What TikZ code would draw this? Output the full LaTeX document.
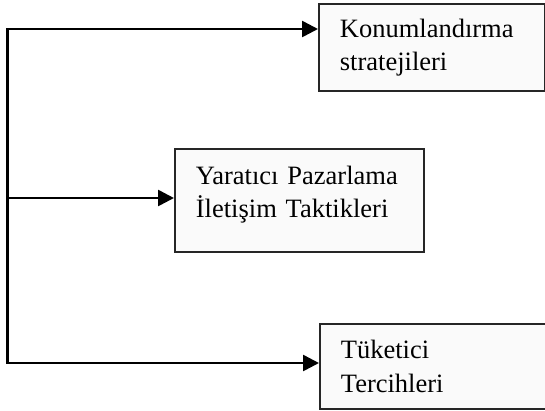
\documentclass[tikz,border=0pt]{standalone}
\usepackage{fontspec}
\setmainfont{Liberation Serif}
\usetikzlibrary{arrows.meta}
\begin{document}
\begin{tikzpicture}[x=1bp,y=-1bp,
  box/.style={draw=black!85, line width=1.8bp, fill=black!2, anchor=north west,
    inner xsep=21bp, inner ysep=0pt, align=left,
    font=\fontsize{26.5bp}{33.5bp}\selectfont},
  tip/.tip={Triangle[length=16bp,width=16bp]},
  conn/.style={line width=2.6bp, line join=miter, -tip}]
\useasboundingbox (0,0) rectangle (545,410);
\node[box, text width=184bp, minimum height=87bp] (k) at (318,3) {Konumlandırma\\stratejileri};
\node[box, text width=207bp, minimum height=103bp] (y) at (174,148) {Yaratıcı Pazarlama\\İletişim Taktikleri\rule[-17bp]{0pt}{1bp}};
\node[box, text width=200bp, minimum height=85bp] (t) at (319,323) {Tüketici\\Tercihleri};
\coordinate (tl) at (7.5,29);
\coordinate (ml) at (7.5,198);
\coordinate (bl) at (7.5,363);
\draw[conn, tip-tip] (bl -| t.west) -- (bl) -- (tl) -- (tl -| k.west);
\draw[conn] (ml) -- (ml -| y.west);
\end{tikzpicture}
\end{document}
